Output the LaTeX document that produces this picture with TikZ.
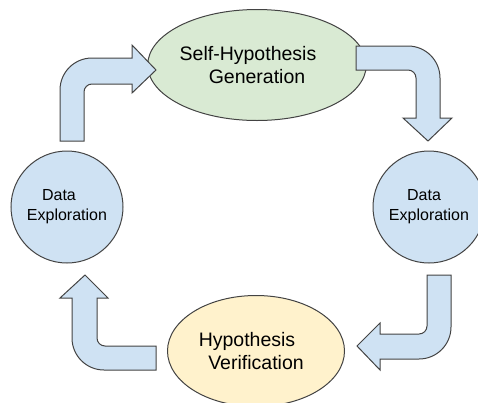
\documentclass[tikz,border=0pt]{standalone}
\usepackage{fontspec}
\setmainfont{Liberation Sans}
\usepackage{tikz}
\usetikzlibrary{shapes.geometric}

\definecolor{hellblau}{HTML}{CFE2F3}
\definecolor{hellgruen}{HTML}{D9EAD3}
\definecolor{hellgelb}{HTML}{FFF2CC}
\definecolor{rand}{HTML}{434343}

\begin{document}
\begin{tikzpicture}[x=1pt, y=1pt, line width=1pt,
	oval/.style={ellipse, draw=rand, minimum width=177, minimum height=111, inner sep=0pt, align=center, font=\fontsize{19.5}{23}\selectfont},
	kreis/.style={circle, draw=rand, fill=hellblau, minimum size=112, inner sep=0pt, align=center, font=\fontsize{16}{20}\selectfont},
	pfeil/.style={draw=rand, fill=hellblau, line join=miter}]
	
	\useasboundingbox (0,0) rectangle (478,-402);
	
	% Knoten
	\node[oval, fill=hellgruen](gen) at (257,-65) {Self-Hypothesis\hspace*{18pt}\\Generation};
	\node[oval, fill=hellgelb](ver) at (256,-351) {Hypothesis\hspace*{18pt}\\Verification};
	\node[kreis](dat_l) at (67,-207) {Data\hspace*{16pt}\\Exploration};
	\node[kreis](dat_r) at (429,-207) {Data\hspace*{10pt}\\Exploration};
	
	% Pfeile
	% links oben
	\draw[pfeil] (60,-141) -- (60,-90) arc (180:90:32) -- (132,-58) -- (132,-45) -- (156,-70)
		-- (132,-93) -- (132,-84) -- (92,-84) arc (90:180:8) -- (84,-141) -- cycle;
	% rechts oben
	\draw[pfeil] (356,-46) -- (408,-46) arc (90:0:32) -- (440,-118) -- (452,-118) -- (428,-141)
		-- (403,-118) -- (416,-118) -- (416,-78) arc (0:90:8) -- (356,-70) -- cycle;
	% rechts unten
	\draw[pfeil] (427,-275) -- (451,-275) -- (451,-327) arc (0:-90:32) -- (380,-359) -- (380,-370)
		-- (357,-346) -- (380,-323) -- (380,-334) -- (419,-334) arc (-90:0:8) -- cycle;
	% links unten
	\draw[pfeil] (156,-346) -- (105,-346) arc (270:180:8) -- (97,-298) -- (108,-298) -- (85,-275)
		-- (60,-298) -- (72,-298) -- (72,-338) arc (180:270:32) -- (156,-370) -- cycle;
\end{tikzpicture}
\end{document}
